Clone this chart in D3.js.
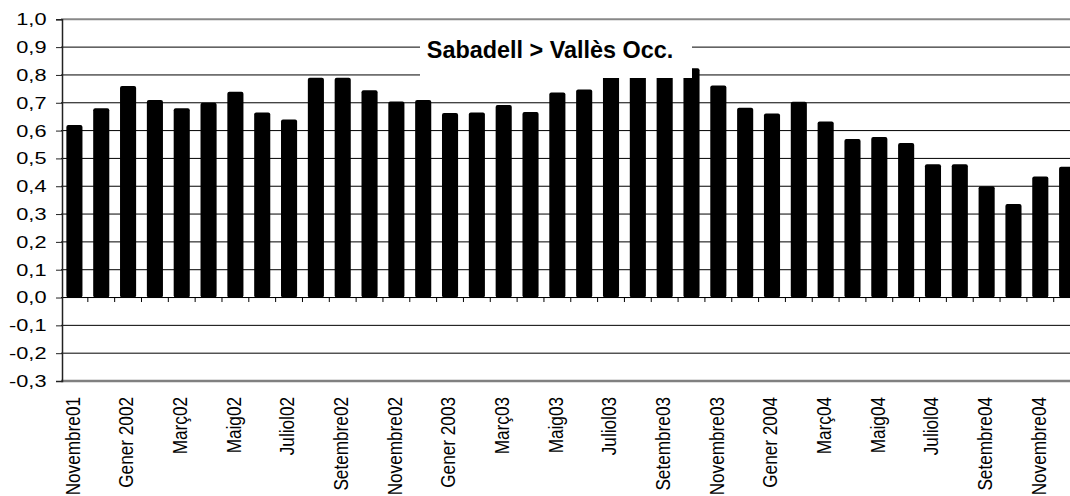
<!DOCTYPE html>
<html>
<head>
<meta charset="utf-8">
<script src="https://cdn.jsdelivr.net/npm/d3@7"></script>
<style>
  html, body { margin: 0; padding: 0; background: #fff; }
  svg { display: block; font-family: "Liberation Sans", Arial, sans-serif; }
</style>
</head>
<body>
<svg id="chart" width="1070" height="496"></svg>
<script>
// Monthly ratio, Sabadell relative to Vallès Occidental
const categories = [
  "Novembre01", "Desembre01", "Gener 2002", "Febrer02", "Març02", "Abril02",
  "Maig02", "Juny02", "Juliol02", "Agost02", "Setembre02", "Octubre02",
  "Novembre02", "Desembre02", "Gener 2003", "Febrer03", "Març03", "Abril03",
  "Maig03", "Juny03", "Juliol03", "Agost03", "Setembre03", "Octubre03",
  "Novembre03", "Desembre03", "Gener 2004", "Febrer04", "Març04", "Abril04",
  "Maig04", "Juny04", "Juliol04", "Agost04", "Setembre04", "Octubre04",
  "Novembre04", "Desembre04"
];
const values = [
  0.62, 0.68, 0.76, 0.71, 0.68, 0.70,
  0.74, 0.665, 0.64, 0.79, 0.79, 0.745,
  0.705, 0.71, 0.663, 0.665, 0.692, 0.667,
  0.737, 0.748, 0.80, 0.81, 0.80, 0.824,
  0.762, 0.682, 0.661, 0.704, 0.633, 0.57,
  0.577, 0.555, 0.479, 0.479, 0.40, 0.336,
  0.435, 0.47
];
// Every second month gets a label on the category axis
const tickLabels = [
  "Novembre01", "Gener 2002", "Març02", "Maig02", "Juliol02", "Setembre02",
  "Novembre02", "Gener 2003", "Març03", "Maig03", "Juliol03", "Setembre03",
  "Novembre03", "Gener 2004", "Març04", "Maig04", "Juliol04", "Setembre04",
  "Novembre04"
];
const yTicks = [-0.3, -0.2, -0.1, 0.0, 0.1, 0.2, 0.3, 0.4, 0.5, 0.6, 0.7, 0.8, 0.9, 1.0];
const title = "Sabadell > Vallès Occ.";

const svg = d3.select("#chart");
const plotLeft = 61, step = 26.83, plotTop = 19.3, plotBottom = 381;
const plotRight = plotLeft + step * categories.length;
const yTextStretch = 1.28;  // value labels are drawn horizontally widened
const xTextStretch = 1.15;  // month labels too, a little less

const x = d3.scaleBand()
  .domain(categories)
  .range([plotLeft, plotRight])
  .paddingInner(0.4)
  .paddingOuter(0.2);

const y = d3.scaleLinear().domain([-0.3, 1.0]).range([plotBottom, plotTop]);
const fmt = v => d3.format(".1f")(v).replace(".", ",").replace("−", "-");

// horizontal gridlines
svg.append("g")
  .selectAll("line")
  .data(yTicks.filter(v => v > -0.3 && v < 1.0))
  .join("line")
  .attr("x1", plotLeft).attr("x2", 1070)
  .attr("y1", d => y(d)).attr("y2", d => y(d))
  .attr("stroke", "#000").attr("stroke-width", 1);

// plot frame top and bottom
svg.append("line")
  .attr("x1", plotLeft).attr("x2", 1070)
  .attr("y1", y(1.0)).attr("y2", y(1.0))
  .attr("stroke", "#888").attr("stroke-width", 2);
svg.append("line")
  .attr("x1", plotLeft).attr("x2", 1070)
  .attr("y1", y(-0.3)).attr("y2", y(-0.3))
  .attr("stroke", "#808080").attr("stroke-width", 2.5);

// bars
svg.append("g")
  .selectAll("rect")
  .data(values)
  .join("rect")
  .attr("x", (d, i) => x(categories[i]))
  .attr("width", x.bandwidth())
  .attr("y", d => y(Math.max(0, d)))
  .attr("height", d => Math.abs(y(d) - y(0)))
  .attr("rx", 2)
  .attr("fill", "#000");

// zero line with category ticks
svg.append("line")
  .attr("x1", plotLeft).attr("x2", 1070)
  .attr("y1", y(0)).attr("y2", y(0))
  .attr("stroke", "#000").attr("stroke-width", 1);
svg.append("g")
  .selectAll("line")
  .data(categories.slice(1))
  .join("line")
  .attr("x1", d => x(d) - x.step() * x.paddingInner() / 2)
  .attr("x2", d => x(d) - x.step() * x.paddingInner() / 2)
  .attr("y1", y(0)).attr("y2", y(0) + 4.5)
  .attr("stroke", "#000").attr("stroke-width", 1);

// value axis
svg.append("g")
  .attr("transform", `translate(${plotLeft + 1},0)`)
  .call(d3.axisLeft(y).tickValues(yTicks).tickFormat(fmt).tickSize(6))
  .call(g => g.select(".domain").attr("stroke", "#222").attr("stroke-width", 1.5))
  .call(g => g.selectAll(".tick line").attr("stroke", "#222"))
  .call(g => g.selectAll(".tick text")
    .attr("fill", "#000")
    .attr("font-size", 17)
    .attr("font-family", "'Liberation Sans', Arial, sans-serif")
    .attr("x", -15.5 / yTextStretch)
    .attr("transform", `scale(${yTextStretch},1)`));

// month labels below the chart
svg.append("g")
  .attr("transform", `translate(0,${plotBottom})`)
  .call(d3.axisBottom(x).tickValues(tickLabels).tickSize(0).tickFormat(d => d))
  .call(g => g.select(".domain").remove())
  .call(g => g.selectAll(".tick text")
    .attr("font-size", 17.2)
    .attr("font-family", "'Liberation Sans', Arial, sans-serif")
    .attr("fill", "#000")
    .attr("text-anchor", "end")
    .attr("transform", `scale(${xTextStretch},1) rotate(-90)`)
    .attr("x", -16)
    .attr("y", 0)
    .attr("dy", 4.6));

// title box sitting over the plot
const titleG = svg.append("g");
titleG.append("rect")
  .attr("x", 420).attr("y", 30)
  .attr("width", 272).attr("height", 48)
  .attr("fill", "#fff");
titleG.append("text")
  .attr("x", 550).attr("y", 58)
  .attr("text-anchor", "middle")
  .attr("font-weight", "bold")
  .attr("font-size", 23.4)
  .attr("fill", "#000")
  .text(title);
</script>
</body>
</html>
